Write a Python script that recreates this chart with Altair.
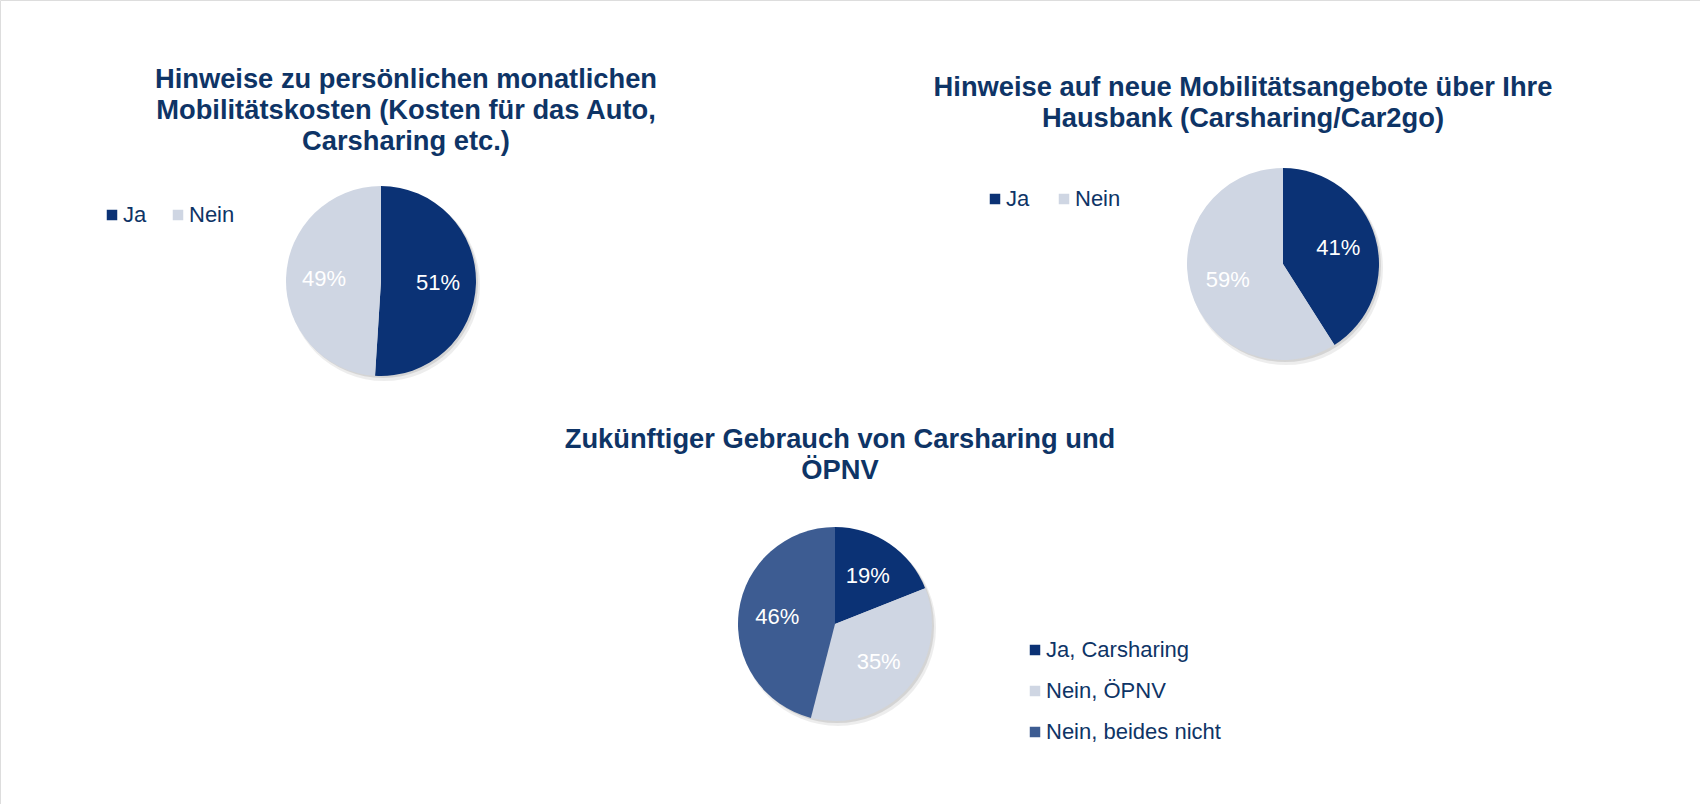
import altair as alt
import pandas as pd

NAVY = "#0b3275"
LIGHT = "#cfd6e3"
MID = "#3d5c92"
TEXT = "#0e3466"
FONT = "Liberation Sans"

# ---- data ----
cats1 = ["Ja", "Nein"]
vals1 = [51, 49]
cats2 = ["Ja", "Nein"]
vals2 = [41, 59]
cats3 = ["Ja, Carsharing", "Nein, ÖPNV", "Nein, beides nicht"]
vals3 = [19, 35, 46]

title1 = ["Hinweise zu persönlichen monatlichen",
          "Mobilitätskosten (Kosten für das Auto,",
          "Carsharing etc.)"]
title2 = ["Hinweise auf neue Mobilitätsangebote über Ihre",
          "Hausbank (Carsharing/Car2go)"]
title3 = ["Zukünftiger Gebrauch von Carsharing und",
          "ÖPNV"]


def frame(cats, vals):
    return pd.DataFrame({
        "cat": cats,
        "v": vals,
        "o": list(range(len(cats))),
        "lbl": [f"{v}%" for v in vals],
    })


def pie(df, cats, colors, cx, cy, r, legend):
    base = alt.Chart(df)
    sh1 = base.mark_arc(radius=r + 1, color="#000000", opacity=0.07).encode(
        theta=alt.Theta("sum(v):Q"), x=alt.value(cx + 3), y=alt.value(cy + 4))
    sh2 = base.mark_arc(radius=r, color="#000000", opacity=0.10).encode(
        theta=alt.Theta("sum(v):Q"), x=alt.value(cx + 2), y=alt.value(cy + 2))
    arcs = base.mark_arc(radius=r).encode(
        x=alt.value(cx), y=alt.value(cy),
        theta=alt.Theta("v:Q", stack=True),
        color=alt.Color("cat:N", sort=cats,
                        scale=alt.Scale(domain=cats, range=colors),
                        legend=legend),
        order=alt.Order("o:Q"),
    )
    labels = base.mark_text(radius=r * 0.6, fontSize=22, font=FONT,
                            color="white").encode(
        x=alt.value(cx), y=alt.value(cy),
        theta=alt.Theta("v:Q", stack=True),
        detail="cat:N",
        order=alt.Order("o:Q"),
        text="lbl:N",
    )
    return [sh1, sh2, arcs, labels]


def legend(x, y, direction, **kw):
    return alt.Legend(orient="none", legendX=x, legendY=y, direction=direction,
                      title=None, symbolType="square", symbolSize=110,
                      symbolStrokeWidth=0, labelFontSize=22, labelFont=FONT,
                      labelColor=TEXT, labelOffset=0, labelLimit=0,
                      padding=0, **kw)


def title(lines, cx, y):
    return alt.Chart(pd.DataFrame({"t": [0]})).mark_text(
        text=lines, lineHeight=31, fontSize=27.3, fontWeight="bold",
        font=FONT, color=TEXT, align="center", baseline="alphabetic"
    ).encode(x=alt.value(cx), y=alt.value(y))


layers = []
layers += pie(frame(cats1, vals1), cats1, [NAVY, LIGHT], 381, 281, 95,
              legend(101, 204, "horizontal", columnPadding=20))
layers += pie(frame(cats2, vals2), cats2, [NAVY, LIGHT], 1283, 264, 96,
              legend(984, 188, "vertical", columns=2, columnPadding=23))
layers += pie(frame(cats3, vals3), cats3, [NAVY, LIGHT, MID], 835, 624, 97,
              legend(1024, 639, "vertical", rowPadding=19))
layers.append(title(title1, 406, 88))
layers.append(title(title2, 1243, 96))
layers.append(title(title3, 840, 448))

chart = alt.layer(*layers).resolve_scale(color="independent").properties(
    width=1700, height=804, padding=0, autosize="none"
).configure_view(stroke=None).configure(background="white")

chart.save("out.html", embed_options={"renderer": "svg", "actions": False})
